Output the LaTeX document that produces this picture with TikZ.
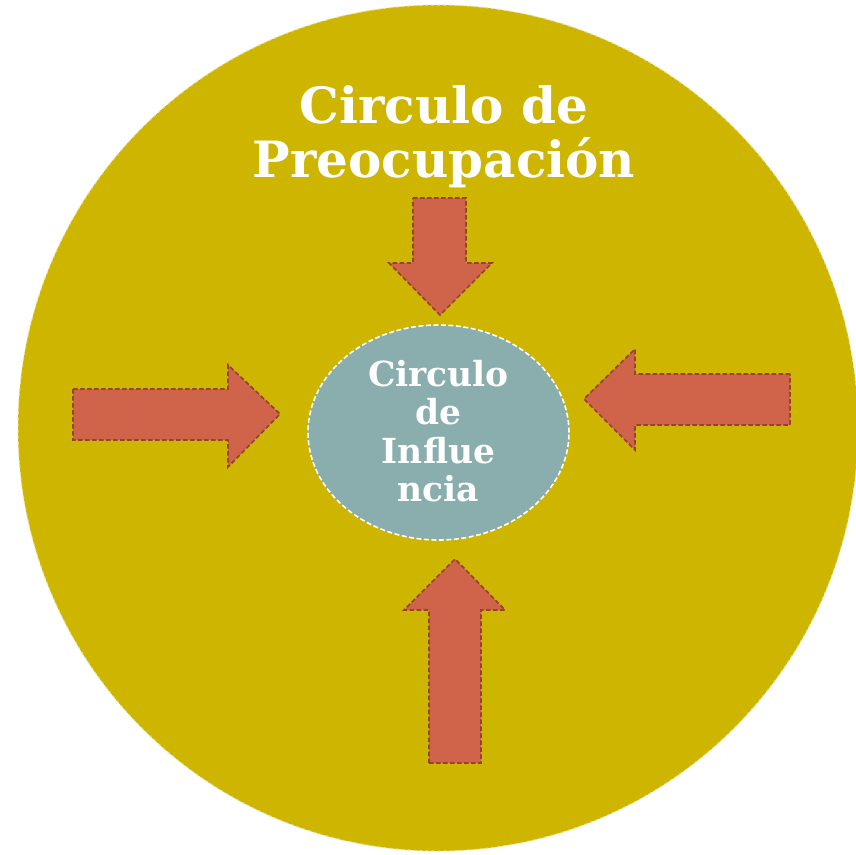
\documentclass[tikz,border=0pt]{standalone}
\usepackage{fontspec}
\setmainfont{DejaVu Serif}
\usetikzlibrary{shapes.geometric}
\definecolor{outerfill}{RGB}{205,181,0}
\definecolor{outeredge}{RGB}{235,222,150}
\definecolor{innerfill}{RGB}{138,173,173}
\definecolor{arrowfill}{RGB}{208,100,75}
\definecolor{arrowedge}{RGB}{150,66,48}
\tikzset{
  bigarrow/.style={fill=arrowfill, draw=arrowedge, line width=1.7pt, dash pattern=on 4.5pt off 2.5pt, line join=miter},
  titletext/.style={text=white, font=\bfseries\fontsize{50}{54}\selectfont, align=center},
  innertext/.style={text=white, font=\bfseries\fontsize{34.5}{38.5}\selectfont, align=center}
}
\begin{document}
\begin{tikzpicture}[x=1pt,y=-1pt]
\useasboundingbox (0,0) rectangle (856,854);
\node[ellipse, minimum width=840, minimum height=846, fill=outerfill, draw=outeredge, dashed, line width=1pt, inner sep=0pt] (outer) at (438,428) {};
\node[ellipse, minimum width=261, minimum height=215, fill=innerfill, draw=white, dash pattern=on 5pt off 2.5pt, line width=1.6pt, inner sep=0pt] (inner) at (438.5,432.5) {};
\node[titletext] (title) at (444,137) {Circulo de\\Preocupación};
\node[innertext] (innerlabel) at (438.5,431) {Circulo\\de\\Influe\\ncia};
% top arrow (down)
\draw[bigarrow] (413,198) -- (466,198) -- (466,263) -- (492,263) -- (440,315) -- (389,263) -- (413,263) -- cycle;
% left arrow (right)
\draw[bigarrow] (73,389) -- (228,389) -- (228,365) -- (280,414) -- (228,467) -- (228,440) -- (73,440) -- cycle;
% right arrow (left)
\draw[bigarrow] (790,374) -- (635,374) -- (635,349) -- (584,399) -- (635,450) -- (635,425) -- (790,425) -- cycle;
% bottom arrow (up)
\draw[bigarrow] (429,763) -- (429,610) -- (404,610) -- (455,559) -- (505,610) -- (481,610) -- (481,763) -- cycle;
\end{tikzpicture}
\end{document}
